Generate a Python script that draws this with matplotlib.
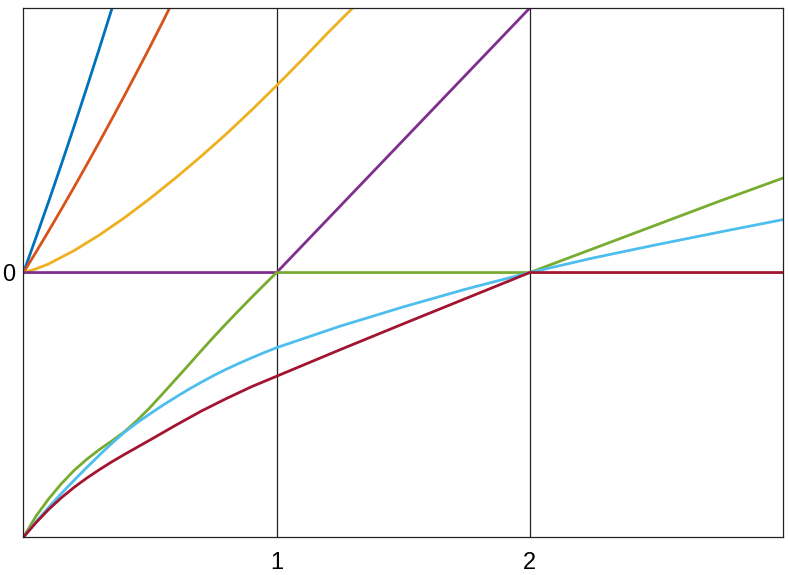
import matplotlib
matplotlib.use("Agg")
import matplotlib.pyplot as plt

# values
blue_x = [0.0, 0.05, 0.1, 0.15, 0.2, 0.25, 0.3, 0.35]
blue_y = [0.0, 0.134, 0.27, 0.41, 0.553, 0.699, 0.848, 1.0]

orange_x = [0.0, 0.05, 0.1, 0.15, 0.2, 0.25, 0.3, 0.35, 0.4, 0.45, 0.5, 0.55, 0.577]
orange_y = [0.0, 0.078, 0.158, 0.24, 0.323, 0.408, 0.494, 0.582, 0.671, 0.762, 0.854, 0.948, 1.0]

yellow_x = [0.0, 0.05, 0.1, 0.2, 0.3, 0.4, 0.5, 0.6, 0.7, 0.8, 0.9, 1.0, 1.1, 1.2, 1.3]
yellow_y = [0.0, 0.014, 0.033, 0.083, 0.142, 0.208, 0.28, 0.357, 0.438, 0.523, 0.613, 0.707, 0.804, 0.904, 1.0]

purple_x = [0.0, 1.0, 2.0, 3.0]
purple_y = [0.0, 0.0, 1.0, 2.0]

green_x = [0.0, 0.05, 0.1, 0.15, 0.2, 0.25, 0.3, 0.35, 0.4, 0.45, 0.5, 0.55, 0.6, 0.65, 0.7,
           0.75, 0.8, 0.85, 0.9, 0.95, 1.0, 2.0, 2.25, 2.5, 2.75, 3.0]
green_y = [-1.0, -0.92, -0.855, -0.798, -0.748, -0.706, -0.669, -0.636, -0.601, -0.558, -0.51,
           -0.458, -0.405, -0.352, -0.298, -0.245, -0.194, -0.144, -0.095, -0.047, 0.0,
           0.0, 0.09, 0.18, 0.27, 0.357]

cyan_x = [0.0, 0.05, 0.1, 0.15, 0.2, 0.25, 0.3, 0.35, 0.4, 0.45, 0.5, 0.55, 0.6, 0.65, 0.7,
          0.75, 0.8, 0.85, 0.9, 0.95, 1.0, 1.25, 1.5, 1.75, 2.0, 2.25, 2.5, 2.75, 3.0]
cyan_y = [-1.0, -0.942, -0.887, -0.835, -0.785, -0.737, -0.69, -0.645, -0.603, -0.567, -0.534,
          -0.502, -0.472, -0.443, -0.416, -0.39, -0.366, -0.344, -0.323, -0.303, -0.284,
          -0.203, -0.13, -0.062, 0.0, 0.055, 0.105, 0.153, 0.2]

red_x = [0.0, 0.05, 0.1, 0.15, 0.2, 0.25, 0.3, 0.35, 0.4, 0.45, 0.5, 0.6, 0.7, 0.8, 0.9, 1.0,
         1.25, 1.5, 1.75, 2.0, 3.0]
red_y = [-1.0, -0.945, -0.895, -0.851, -0.812, -0.777, -0.745, -0.715, -0.687, -0.66, -0.633,
         -0.578, -0.525, -0.477, -0.432, -0.392, -0.292, -0.194, -0.097, 0.0, 0.0]

series = [
    (blue_x, blue_y, "#0072BD"),
    (orange_x, orange_y, "#D95319"),
    (yellow_x, yellow_y, "#EDB120"),
    (purple_x, purple_y, "#7E2F8E"),
    (green_x, green_y, "#77AC30"),
    (cyan_x, cyan_y, "#4DBEEE"),
    (red_x, red_y, "#A2142F"),
]

x_ticks = [1, 2]
y_ticks = [0]

plt.rcParams["font.family"] = ["Liberation Sans", "DejaVu Sans"]

fig = plt.figure(figsize=(7.88, 5.75), dpi=100)
ax = fig.add_axes([0.0298, 0.066, 0.9637, 0.920])

for xv in x_ticks:
    ax.axvline(xv, color="#222222", lw=0.9, zorder=1)

for xs, ys, c in series:
    ax.plot(xs, ys, color=c, lw=2.0, solid_joinstyle="round", zorder=2)

ax.set_xlim(0, 3)
ax.set_ylim(-1, 1)
ax.set_xticks(x_ticks)
ax.set_yticks(y_ticks)
ax.tick_params(length=0, labelsize=17)
ax.tick_params(axis="x", pad=11)
ax.tick_params(axis="y", pad=6)
for sp in ax.spines.values():
    sp.set_color("#222222")
    sp.set_linewidth(0.9)

fig.savefig("out.png", dpi=100)
